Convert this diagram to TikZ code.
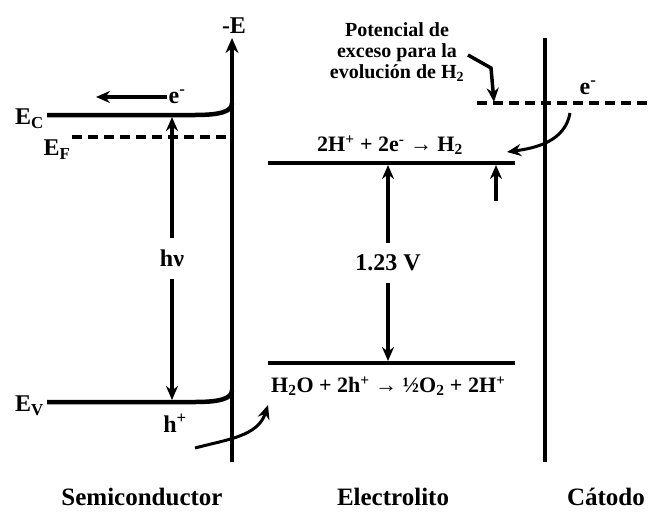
\documentclass[tikz,border=0pt]{standalone}
\usepackage{fontspec}
\setmainfont{Liberation Serif}
\usepackage{tikz}
\usetikzlibrary{arrows.meta, positioning, calc}
\tikzstyle{level} = [line width=4.5pt]
\tikzstyle{fermi} = [line width=4.5pt, dash pattern=on 10pt off 6pt]
\tikzstyle{axis} = [line width=4.5pt]
\tikzstyle{arrow} = [line width=3.5pt, -{Stealth[length=14pt,width=12pt]}]
\tikzstyle{dblarrow} = [line width=3.5pt, {Stealth[length=14pt,width=12pt]}-{Stealth[length=14pt,width=12pt]}]
\tikzstyle{lbl} = [font=\fontsize{24}{26}\selectfont\bfseries, inner sep=1pt]
\tikzstyle{rxn} = [font=\fontsize{22}{24}\selectfont\bfseries, inner sep=1pt]
\tikzstyle{title} = [font=\fontsize{25}{27}\selectfont\bfseries, inner sep=0pt]

\begin{document}
\begin{tikzpicture}[x=1pt, y=-1pt]
    \useasboundingbox (0,0) rectangle (653,512);

    % semiconductor
    \coordinate (axtop) at (232,38);
    \coordinate (axbot) at (232,462);
    \draw [axis, -{Stealth[length=15pt,width=13pt]}] (axbot) -- (axtop);
    \node (mE) [lbl] at (234,26) {-E};

    \coordinate (ecL) at (47,115);
    \coordinate (ecR) at (232,103);
    \draw [level] (ecL) -- (195,115) .. controls (222,115) and (232,111) .. (ecR);
    \coordinate (efL) at (72,137);
    \coordinate (efR) at (232,137);
    \draw [fermi] (efL) -- (efR);
    \coordinate (evL) at (47,402);
    \coordinate (evR) at (232,390);
    \draw [level] (evL) -- (195,402) .. controls (222,402) and (232,398) .. (evR);

    \node (EC) [lbl, anchor=east] at (45,119) {E\textsubscript{C}};
    \node (EF) [lbl] at (57,150) {E\textsubscript{F}};
    \node (EV) [lbl, anchor=east] at (45,406) {E\textsubscript{V}};

    \node (eS) [lbl] at (177,97) {e\textsuperscript{-}};
    \coordinate (eSend) at (96,97);
    \draw [arrow] (eS.west) -- (eSend);

    \coordinate (hvtop) at (172,117);
    \coordinate (hvbot) at (172,400);
    \draw [dblarrow] (hvtop) -- node [lbl, fill=white, inner ysep=12pt] {hν} (hvbot);

    \node (hp) [lbl] at (175,423) {h\textsuperscript{+}};
    \coordinate (hpA) at (195,448);
    \coordinate (hpB) at (268,405);
    \draw [arrow, line width=3pt] (hpA) to [out=15, in=-108] (hpB);

    % electrolyte
    \coordinate (upL) at (268,163);
    \coordinate (upR) at (515,163);
    \draw [level] (upL) -- (upR);
    \coordinate (loL) at (268,363);
    \coordinate (loR) at (515,363);
    \draw [level] (loL) -- (loR);

    \node (red) [rxn] at (390,145) {2H\textsuperscript{+} + 2e\textsuperscript{-} → H\textsubscript{2}};
    \node (ox) [rxn, anchor=west] at (270,386) {H\textsubscript{2}O + 2h\textsuperscript{+} → ½O\textsubscript{2} + 2H\textsuperscript{+}};

    \coordinate (vtop) at (388,165);
    \coordinate (vbot) at (388,361);
    \draw [dblarrow] (vbot) -- node [lbl, fill=white, inner ysep=12pt] {1.23 V} (vtop);

    \coordinate (ovA) at (496,201);
    \coordinate (ovB) at (496,165);
    \draw [arrow] (ovA) -- (ovB);

    % cathode
    \coordinate (catop) at (545,38);
    \coordinate (cabot) at (545,462);
    \draw [axis] (catop) -- (cabot);
    \coordinate (dL) at (477,103);
    \coordinate (dR) at (653,103);
    \draw [fermi] (dL) -- (dR);
    \node (eC) [lbl] at (588,88) {e\textsuperscript{-}};
    \coordinate (eCA) at (570,113);
    \coordinate (eCB) at (507,152);
    \draw [arrow, line width=3pt] (eCA) to [out=-100, in=8] (eCB);

    \node (note) [font=\fontsize{20}{21}\selectfont\bfseries, align=center] at (397,52) {Potencial de\\exceso para la\\evolución de H\textsubscript{2}};
    \coordinate (nA) at (468,55);
    \coordinate (nB) at (491,68);
    \coordinate (nC) at (494,102);
    \draw [arrow] (nA) -- (nB) -- (nC);

    % bottom labels
    \node (semi) [title] at (142,497) {Semiconductor};
    \node (elec) [title] at (393,497) {Electrolito};
    \node (cat) [title] at (606,497) {Cátodo};
\end{tikzpicture}
\end{document}
